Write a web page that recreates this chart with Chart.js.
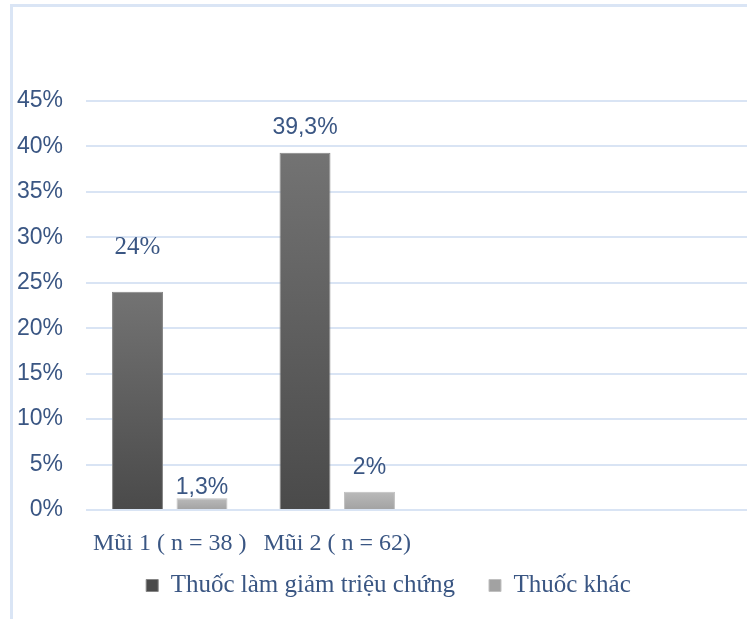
<!DOCTYPE html>
<html>
<head>
<meta charset="utf-8">
<script src="https://cdn.jsdelivr.net/npm/chart.js@4.4.1/dist/chart.umd.min.js"></script>
<style>
  html, body { margin: 0; padding: 0; background: #ffffff; overflow: hidden; }
  #wrap { position: relative; width: 747px; height: 619px; overflow: hidden; background: #fff; }
  #box { position: absolute; left: 0; top: 0; width: 775px; height: 619px; }
  #frameTop { position: absolute; left: 10px; top: 4px; width: 737px; height: 3px; background: #dae5f5; }
  #frameLeft { position: absolute; left: 10px; top: 4px; width: 3px; height: 615px; background: #dae5f5; }
</style>
</head>
<body>
<div id="wrap">
  <div id="box"><canvas id="c" width="775" height="619"></canvas></div>
  <div id="frameTop"></div>
  <div id="frameLeft"></div>
</div>
<script>
const categories = ['Mũi 1 ( n = 38 )', 'Mũi 2 ( n = 62)', '', ''];
const seriesNames = ['Thuốc làm giảm triệu chứng', 'Thuốc khác'];
const symptomRelief = [24, 39.3, null, null];
const otherDrugs = [1.3, 2, null, null];
const yTicks = [0, 5, 10, 15, 20, 25, 30, 35, 40, 45];

const textColor = '#3a5683';

function gradientFill(top, bottom, solid) {
  return function (ctx) {
    const chart = ctx.chart;
    const v = ctx.raw;
    if (!chart.chartArea || v === undefined || v === null) return solid;
    const y = chart.scales.y;
    const y0 = y.getPixelForValue(v);
    const y1 = y.getPixelForValue(0);
    if (!isFinite(y0) || !isFinite(y1) || y0 === y1) return solid;
    const g = chart.ctx.createLinearGradient(0, y0, 0, y1);
    g.addColorStop(0, top);
    g.addColorStop(1, bottom);
    return g;
  };
}

const fmt = v => (String(v).replace('.', ',')) + '%';

const labelPlugin = {
  id: 'valueLabels',
  afterDatasetsDraw(chart, args, opts) {
    const c = chart.ctx;
    chart.data.datasets.forEach((ds, di) => {
      const meta = chart.getDatasetMeta(di);
      meta.data.forEach((bar, i) => {
        const v = ds.data[i];
        if (v === null || v === undefined) return;
        const off = opts.offsets[di][i];
        const font = opts.fonts[di][i];
        c.save();
        c.font = font;
        c.fillStyle = textColor;
        c.textAlign = 'center';
        c.textBaseline = 'middle';
        c.fillText(fmt(v), bar.x, bar.y - off);
        c.restore();
      });
    });
  }
};

const noLabelClip = function () { return undefined; };

new Chart(document.getElementById('c'), {
  type: 'bar',
  data: {
    labels: categories,
    datasets: [
      {
        label: seriesNames[0],
        data: symptomRelief,
        backgroundColor: gradientFill('#737373', '#4a4a4a', '#565656'),
        borderColor: '#858585',
        borderWidth: 1,
        borderSkipped: 'bottom',
        categoryPercentage: 0.77,
        barPercentage: 0.79
      },
      {
        label: seriesNames[1],
        data: otherDrugs,
        backgroundColor: gradientFill('#bababa', '#a2a2a2', '#aaaaaa'),
        borderColor: '#c0c0c0',
        borderWidth: 1,
        borderSkipped: 'bottom',
        categoryPercentage: 0.77,
        barPercentage: 0.79
      }
    ]
  },
  options: {
    responsive: false,
    animation: false,
    layout: { padding: { top: 101, right: 19, left: 21, bottom: 11 } },
    scales: {
      x: {
        grid: { display: false, drawTicks: false },
        border: { display: false },
        ticks: {
          color: textColor,
          font: { family: 'Liberation Serif', size: 24 },
          padding: 19,
          maxRotation: 0,
          autoSkip: false
        },
        afterFit(scale) {
          scale.height = 29;
          scale._computeLabelArea = noLabelClip;
        }
      },
      y: {
        min: 0,
        max: 45,
        afterBuildTicks(scale) { scale.ticks = yTicks.map(v => ({ value: v })); },
        grid: { color: '#d9e4f4', lineWidth: 2, drawTicks: false },
        border: { display: false },
        ticks: {
          color: textColor,
          font: { family: 'Liberation Sans', size: 23 },
          padding: 23,
          callback: v => v + '%'
        },
        afterFit(scale) {
          scale.width = 65;
          scale._computeLabelArea = noLabelClip;
        }
      }
    },
    plugins: {
      legend: {
        position: 'bottom',
        labels: {
          color: textColor,
          font: { family: 'Liberation Serif', size: 25 },
          boxWidth: 12,
          boxHeight: 12,
          padding: 34
        }
      },
      tooltip: { enabled: false },
      valueLabels: {
        offsets: [[44, 25, 0, 0], [11, 24, 0, 0]],
        fonts: [
          ['25px "Liberation Serif"', '23px "Liberation Sans"', '', ''],
          ['23px "Liberation Sans"', '23px "Liberation Sans"', '', '']
        ]
      }
    }
  },
  plugins: [labelPlugin]
});
</script>
</body>
</html>
